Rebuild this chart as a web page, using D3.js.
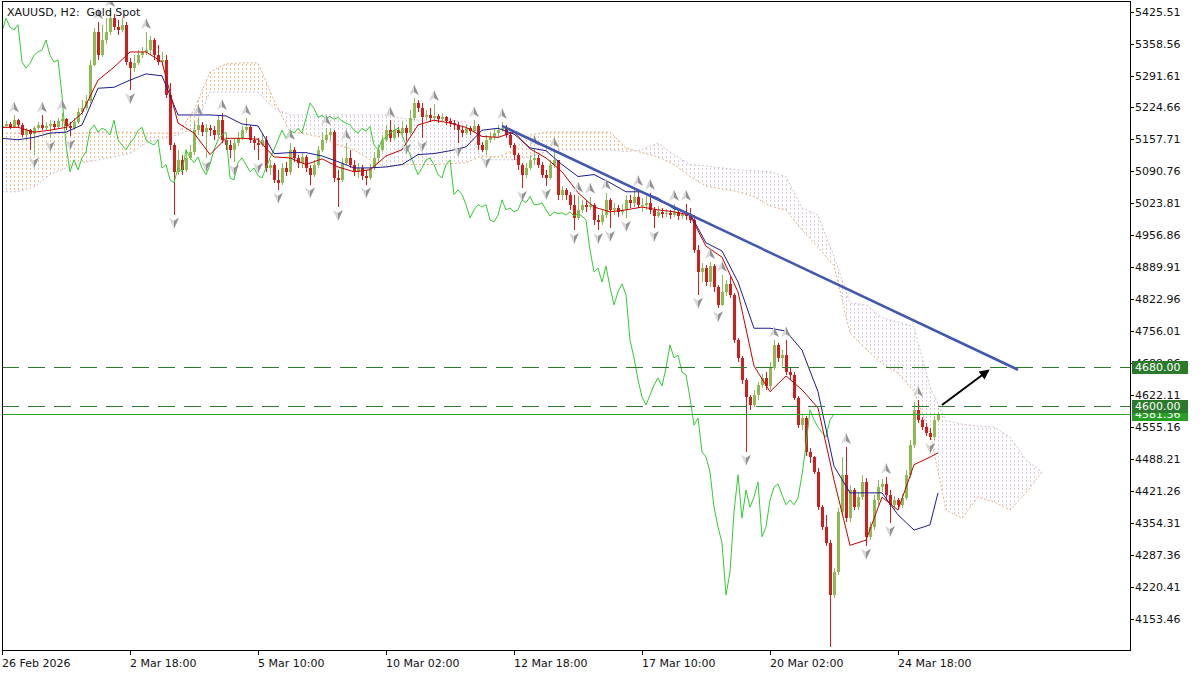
<!DOCTYPE html>
<meta charset="utf-8">
<script src="https://cdn.jsdelivr.net/npm/d3@7"></script>
<style>
  body { margin: 0; background: #fff; }
  text { font-family: "DejaVu Sans", Tahoma, sans-serif; font-size: 11px; fill: #111; }
</style>
<div id="chart"></div>
<script>
// XAUUSD H2 candles, open of each bar = close of the previous one
var firstOpen = 5181;
var closes = [
  5185,5190,5183,5198,5188,5167,5177,5169,5181,5188,
  5181,5185,5190,5183,5196,5200,5185,5181,5194,5215,
  5223,5238,5313,5383,5334,5366,5383,5412,5393,5387,
  5398,5320,5307,5317,5334,5341,5345,5366,5334,5320,
  5324,5250,5146,5090,5115,5094,5119,5132,5177,5188,
  5173,5181,5177,5167,5198,5157,5146,5136,5150,5160,
  5177,5183,5157,5150,5146,5157,5098,5105,5073,5067,
  5098,5090,5136,5119,5109,5121,5098,5084,5105,5136,
  5157,5167,5173,5077,5073,5109,5119,5105,5090,5098,
  5082,5077,5098,5119,5136,5157,5177,5160,5177,5171,
  5181,5171,5202,5234,5223,5204,5208,5202,5206,5200,
  5204,5196,5192,5188,5177,5171,5181,5175,5185,5146,
  5136,5157,5162,5171,5177,5181,5167,5146,5126,5105,
  5084,5098,5115,5119,5105,5084,5077,5105,5115,5042,
  5052,5042,5021,4993,5010,5021,5016,5021,4989,4985,
  4999,5031,5010,5014,5006,5010,5031,5025,5038,5021,
  5021,5025,5010,4997,5006,5002,5004,4999,5006,4997,
  5002,4997,4989,4926,4880,4888,4859,4892,4848,4811,
  4838,4855,4832,4737,4700,4654,4618,4601,4622,4643,
  4658,4641,4679,4727,4700,4706,4670,4664,4616,4559,
  4574,4503,4492,4461,4387,4346,4312,4203,4251,4377,
  4455,4364,4423,4387,4408,4440,4325,4346,4402,4429,
  4436,4413,4392,4402,4392,4406,4455,4517,4591,4570,
  4555,4543,4534,4570,4582
];
var highs = [
  5192,5196,5194,5208,5200,5192,5181,5179,5185,5194,
  5208,5194,5198,5196,5202,5213,5202,5194,5202,5223,
  5240,5250,5324,5391,5404,5398,5412,5429,5421,5408,
  5412,5404,5328,5334,5345,5351,5383,5374,5370,5355,
  5341,5334,5276,5150,5136,5126,5136,5146,5194,5202,
  5194,5190,5188,5185,5208,5213,5162,5157,5160,5173,
  5185,5202,5188,5164,5160,5169,5164,5115,5109,5094,
  5109,5111,5150,5142,5126,5130,5126,5105,5115,5144,
  5173,5181,5181,5177,5094,5119,5150,5136,5115,5109,
  5105,5094,5107,5132,5146,5167,5188,5198,5188,5183,
  5194,5188,5219,5244,5240,5234,5219,5223,5232,5211,
  5213,5206,5202,5198,5194,5183,5188,5185,5198,5190,
  5152,5167,5173,5181,5188,5194,5188,5173,5150,5130,
  5109,5109,5126,5138,5126,5111,5094,5115,5134,5115,
  5060,5056,5048,5042,5040,5031,5031,5038,5025,4999,
  5010,5046,5035,5025,5021,5023,5042,5042,5052,5054,
  5035,5040,5046,5016,5018,5014,5012,5010,5023,5010,
  5010,5023,5014,4999,4936,4899,4895,4901,4897,4853,
  4874,4863,4869,4836,4742,4704,4658,4622,4633,4650,
  4666,4670,4691,4737,4731,4716,4737,4679,4670,4620,
  4582,4578,4511,4495,4469,4392,4371,4318,4260,4385,
  4492,4513,4434,4427,4417,4455,4448,4356,4413,4444,
  4446,4450,4423,4411,4406,4415,4465,4528,4608,4612,
  4576,4564,4553,4578,4587
];
var lows = [
  5177,5181,5179,5181,5183,5162,5157,5136,5126,5177,
  5177,5175,5160,5177,5179,5183,5177,5164,5177,5190,
  5208,5219,5234,5311,5324,5330,5358,5377,5387,5377,
  5383,5313,5261,5299,5313,5328,5334,5334,5324,5313,
  5311,5244,5136,5000,5084,5084,5090,5115,5126,5167,
  5164,5119,5164,5157,5160,5150,5136,5119,5111,5144,
  5157,5171,5150,5136,5115,5142,5090,5084,5067,5052,
  5063,5082,5084,5111,5098,5098,5090,5063,5080,5098,
  5132,5150,5157,5069,5016,5069,5105,5098,5082,5077,
  5073,5063,5073,5094,5111,5132,5152,5152,5157,5162,
  5167,5155,5167,5198,5215,5160,5198,5194,5198,5192,
  5196,5188,5183,5177,5150,5162,5167,5167,5171,5136,
  5132,5126,5150,5157,5160,5173,5160,5140,5115,5094,
  5056,5077,5094,5105,5098,5077,5060,5073,5098,5031,
  5031,5031,5010,4968,4989,5004,5006,5010,4978,4968,
  4978,4993,4972,4999,4995,4999,4993,5014,5016,5014,
  5006,5010,5002,4972,4993,4993,4995,4991,4995,4989,
  4991,4989,4982,4920,4832,4859,4850,4848,4838,4804,
  4809,4830,4825,4731,4691,4646,4503,4591,4597,4612,
  4637,4633,4633,4675,4691,4683,4664,4654,4612,4553,
  4549,4494,4480,4457,4381,4339,4306,4094,4197,4245,
  4371,4356,4356,4381,4381,4402,4306,4318,4339,4392,
  4419,4402,4354,4381,4385,4385,4402,4448,4511,4564,
  4549,4536,4528,4528,4566
];

// Ichimoku lines read every 4 bars (last value = last bar)
var tenkan = [
  5183,5183,5173,5177,5183,5213,5282,5309,5341,5341,
  5320,5192,5171,5126,5160,5160,5158,5121,5119,5105,
  5117,5100,5090,5094,5123,5136,5188,5198,5192,5183,
  5164,5162,5173,5138,5119,5090,5046,5016,5006,5010,
  5016,5010,5006,4999,4934,4911,4838,4683,4629,4662,
  4633,4595,4444,4307,4318,4408,4381,4476,4492,4501
];
var kijun = [
  5160,5157,5162,5171,5173,5188,5265,5267,5282,5295,
  5291,5209,5209,5209,5207,5190,5186,5128,5130,5130,
  5123,5111,5098,5098,5100,5105,5126,5128,5134,5142,
  5177,5181,5169,5140,5134,5105,5080,5084,5067,5048,
  5048,5035,5012,5002,4941,4924,4859,4762,4762,4756,
  4716,4629,4473,4417,4417,4417,4371,4339,4350,4417
];
// cloud, every 4 bars from the first bar to 26 bars past the last one
var spanA = [
  5171,5171,5171,5171,5171,5171,5173,5173,5173,5171,
  5171,5171,5219,5299,5316,5318,5318,5240,5173,5169,
  5162,5146,5136,5115,5100,5105,5105,5105,5107,5109,
  5123,5121,5136,5167,5173,5173,5173,5173,5173,5140,
  5130,5121,5105,5080,5060,5054,5048,5038,5018,5010,
  4968,4932,4893,4752,4718,4689,4668,4629,4543,4381,
  4364,4408,4398,4381,4417,4461
];
var spanB = [
  5048,5048,5058,5084,5098,5109,5115,5121,5128,5150,
  5160,5167,5181,5257,5257,5257,5257,5223,5209,5209,
  5209,5209,5209,5209,5209,5202,5198,5198,5198,5194,
  5115,5115,5115,5121,5132,5136,5136,5136,5136,5132,
  5136,5150,5126,5105,5102,5098,5094,5092,5090,5080,
  5014,4999,4913,4815,4811,4784,4775,4765,4639,4568,
  4561,4557,4555,4534,4486,4461
];

// fractal bars
var upFractals = [3,10,15,24,27,36,49,55,61,72,81,86,97,103,108,118,125,133,138,
                  144,147,151,159,162,168,171,177,180,193,196,211,221,229];
var downFractals = [8,12,17,32,43,51,58,64,69,77,84,91,101,105,114,121,130,136,143,
                    149,152,156,163,174,179,186,216,222,232];

// drawn objects
var trendBars = [125, 254], trendPrices = [5186, 4675];
var arrowBars = [235, 246.5], arrowPrices = [4601, 4673];
var levels = [4680, 4600];
var bid = 4581.36;

var priceTicks = [5425.51,5358.56,5291.61,5224.66,5157.71,5090.76,5023.81,4956.86,4889.91,
  4822.96,4756.01,4689.06,4622.11,4555.16,4488.21,4421.26,4354.31,4287.36,4220.41,4153.46];
var timeTickBars = [0, 32, 64, 96, 128, 160, 192, 224];
var timeTickLabels = ["26 Feb 2026","2 Mar 18:00","5 Mar 10:00","10 Mar 02:00",
  "12 Mar 18:00","17 Mar 10:00","20 Mar 02:00","24 Mar 18:00"];

var W = 1200, H = 675;
var plot = {left: 2, top: 2, right: 1130, bottom: 650};

var x = d3.scaleLinear().domain([0, 282]).range([plot.left, plot.right]);
var y = d3.scaleLinear().domain([4087.7, 5445.7]).range([plot.bottom, plot.top]);

var svg = d3.select("#chart").append("svg")
    .attr("width", W).attr("height", H)
    .style("display", "block").style("background", "#fff");

var defs = svg.append("defs");
defs.append("clipPath").attr("id", "plotClip").append("rect")
    .attr("x", plot.left).attr("y", plot.top)
    .attr("width", plot.right - plot.left).attr("height", plot.bottom - plot.top);

function hatch(id, color) {
  var p = defs.append("pattern").attr("id", id)
      .attr("patternUnits", "userSpaceOnUse").attr("width", 4).attr("height", 4);
  p.append("rect").attr("x", 2).attr("y", 0).attr("width", 1).attr("height", 2)
      .attr("fill", color);
}
hatch("hatchUp", "#f0bd92");
hatch("hatchDown", "#dacbda");

var cloud = spanA.map(function(a, k) { return {b: k * 4, a: a, bb: spanB[k]}; });

defs.append("clipPath").attr("id", "aboveB").append("path")
    .attr("d", d3.area().x(function(d) { return x(d.b); })
      .y0(plot.top).y1(function(d) { return y(d.bb); })(cloud));
defs.append("clipPath").attr("id", "belowB").append("path")
    .attr("d", d3.area().x(function(d) { return x(d.b); })
      .y0(function(d) { return y(d.bb); }).y1(plot.bottom)(cloud));

defs.append("marker").attr("id", "head")
    .attr("viewBox", "0 0 10 10").attr("refX", 8).attr("refY", 5)
    .attr("markerWidth", 6).attr("markerHeight", 5).attr("orient", "auto")
  .append("path").attr("d", "M0,0 L10,5 L0,10 Z").attr("fill", "#000");

var g = svg.append("g").attr("clip-path", "url(#plotClip)");

// cloud
var between = d3.area().x(function(d) { return x(d.b); })
    .y0(function(d) { return y(d.a); }).y1(function(d) { return y(d.bb); });
g.append("g").attr("clip-path", "url(#aboveB)").append("path")
    .attr("d", between(cloud)).attr("fill", "url(#hatchUp)");
g.append("g").attr("clip-path", "url(#belowB)").append("path")
    .attr("d", between(cloud)).attr("fill", "url(#hatchDown)");
g.append("path").datum(cloud)
    .attr("d", d3.line().x(function(d) { return x(d.b); }).y(function(d) { return y(d.a); }))
    .attr("fill", "none").attr("stroke", "#e9ae80").attr("stroke-dasharray", "2,2");
g.append("path").datum(cloud)
    .attr("d", d3.line().x(function(d) { return x(d.b); }).y(function(d) { return y(d.bb); }))
    .attr("fill", "none").attr("stroke", "#d3c0d3").attr("stroke-dasharray", "2,2");

// candles
var bars = closes.map(function(c, i) {
  return {i: i, o: i ? closes[i - 1] : firstOpen, h: highs[i], l: lows[i], c: c};
});
var cg = g.append("g").attr("shape-rendering", "crispEdges");
var candle = cg.selectAll("g").data(bars).enter().append("g")
    .attr("fill", function(d) { return d.c >= d.o ? "#8dba55" : "#d01e1e"; });
candle.append("rect")
    .attr("x", function(d) { return Math.round(x(d.i)); })
    .attr("width", 1)
    .attr("y", function(d) { return y(d.h); })
    .attr("height", function(d) { return Math.max(1, y(d.l) - y(d.h)); });
candle.append("rect")
    .attr("x", function(d) { return Math.round(x(d.i)) - 1; })
    .attr("width", 3)
    .attr("y", function(d) { return y(Math.max(d.o, d.c)); })
    .attr("height", function(d) { return Math.max(1, Math.abs(y(d.o) - y(d.c))); });

// ichimoku lines
var lineBars = d3.range(0, 233, 4).concat([234]);
var bl = d3.line().x(function(d) { return x(d[0]); }).y(function(d) { return y(d[1]); });
g.append("path").attr("d", bl(closes.map(function(c, i) { return [i - 26, c]; })))
    .attr("fill", "none").attr("stroke", "#33cc33").attr("stroke-width", 1);
g.append("path").attr("d", bl(kijun.map(function(v, k) { return [lineBars[k], v]; })))
    .attr("fill", "none").attr("stroke", "#1c1c8e").attr("stroke-width", 1);
g.append("path").attr("d", bl(tenkan.map(function(v, k) { return [lineBars[k], v]; })))
    .attr("fill", "none").attr("stroke", "#c40000").attr("stroke-width", 1);

// fractals
function arrow(sel, up) {
  var s = up ? 1 : -1;
  sel.append("path").attr("d", "M0," + (-6 * s) + " L-5," + (5 * s) + " L0," + (2 * s) + " Z")
      .attr("fill", "#d6d6d6");
  sel.append("path").attr("d", "M0," + (-6 * s) + " L0," + (2 * s) + " L5," + (5 * s) + " Z")
      .attr("fill", "#929292");
}
g.selectAll(".fu").data(upFractals).enter().append("g").attr("class", "fu")
    .attr("transform", function(i) { return "translate(" + x(i) + "," + (y(highs[i]) - 8) + ")"; })
    .each(function() { arrow(d3.select(this), true); });
g.selectAll(".fd").data(downFractals).enter().append("g").attr("class", "fd")
    .attr("transform", function(i) { return "translate(" + x(i) + "," + (y(lows[i]) + 8) + ")"; })
    .each(function() { arrow(d3.select(this), false); });

// levels and bid
g.selectAll(".lvl").data(levels).enter().append("line")
    .attr("x1", plot.left).attr("x2", plot.right)
    .attr("y1", function(d) { return Math.round(y(d)) + 0.5; })
    .attr("y2", function(d) { return Math.round(y(d)) + 0.5; })
    .attr("stroke", "#2c7c2c").attr("stroke-dasharray", "17,9");
g.append("line").attr("x1", plot.left).attr("x2", plot.right)
    .attr("y1", Math.round(y(bid)) + 0.5).attr("y2", Math.round(y(bid)) + 0.5)
    .attr("stroke", "#2aa52a");

// trend line and arrow
g.append("line")
    .attr("x1", x(trendBars[0])).attr("y1", y(trendPrices[0]))
    .attr("x2", x(trendBars[1])).attr("y2", y(trendPrices[1]))
    .attr("stroke", "#4257b0").attr("stroke-width", 2.5);
g.append("line")
    .attr("x1", x(arrowBars[0])).attr("y1", y(arrowPrices[0]))
    .attr("x2", x(arrowBars[1])).attr("y2", y(arrowPrices[1]))
    .attr("stroke", "#000").attr("stroke-width", 2).attr("marker-end", "url(#head)");

// frame and axes
svg.append("rect").attr("x", 2.5).attr("y", 1.5)
    .attr("width", plot.right - 2).attr("height", plot.bottom - 1)
    .attr("fill", "none").attr("stroke", "#000");

var ya = svg.append("g");
ya.selectAll("line").data(priceTicks).enter().append("line")
    .attr("x1", plot.right).attr("x2", plot.right + 4)
    .attr("y1", function(d) { return Math.round(y(d)) + 0.5; })
    .attr("y2", function(d) { return Math.round(y(d)) + 0.5; })
    .attr("stroke", "#000");
ya.selectAll("text").data(priceTicks).enter().append("text")
    .attr("x", plot.right + 5).attr("y", function(d) { return y(d) + 4; })
    .text(function(d) { return d.toFixed(2); });

var xa = svg.append("g");
xa.selectAll("line").data(timeTickBars).enter().append("line")
    .attr("x1", function(b) { return Math.round(x(b)) + 0.5; })
    .attr("x2", function(b) { return Math.round(x(b)) + 0.5; })
    .attr("y1", plot.bottom).attr("y2", plot.bottom + 5)
    .attr("stroke", "#000");
xa.selectAll("text").data(timeTickBars).enter().append("text")
    .attr("x", function(b) { return x(b); }).attr("y", 667)
    .text(function(b, k) { return timeTickLabels[k]; });

// price labels on the axis
function priceBox(p, color) {
  var yy = Math.round(y(p));
  svg.append("rect").attr("x", plot.right + 2).attr("y", yy - 6)
      .attr("width", 56).attr("height", 13).attr("fill", color);
  svg.append("text").attr("x", plot.right + 5).attr("y", yy + 4)
      .style("fill", "#fff").text(p.toFixed(2));
}
priceBox(bid, "#25a025");
levels.forEach(function(p) { priceBox(p, "#2b7a2b"); });

svg.append("text").attr("x", 7).attr("y", 16)
    .style("white-space", "pre").text("XAUUSD, H2:  Gold Spot");
</script>
